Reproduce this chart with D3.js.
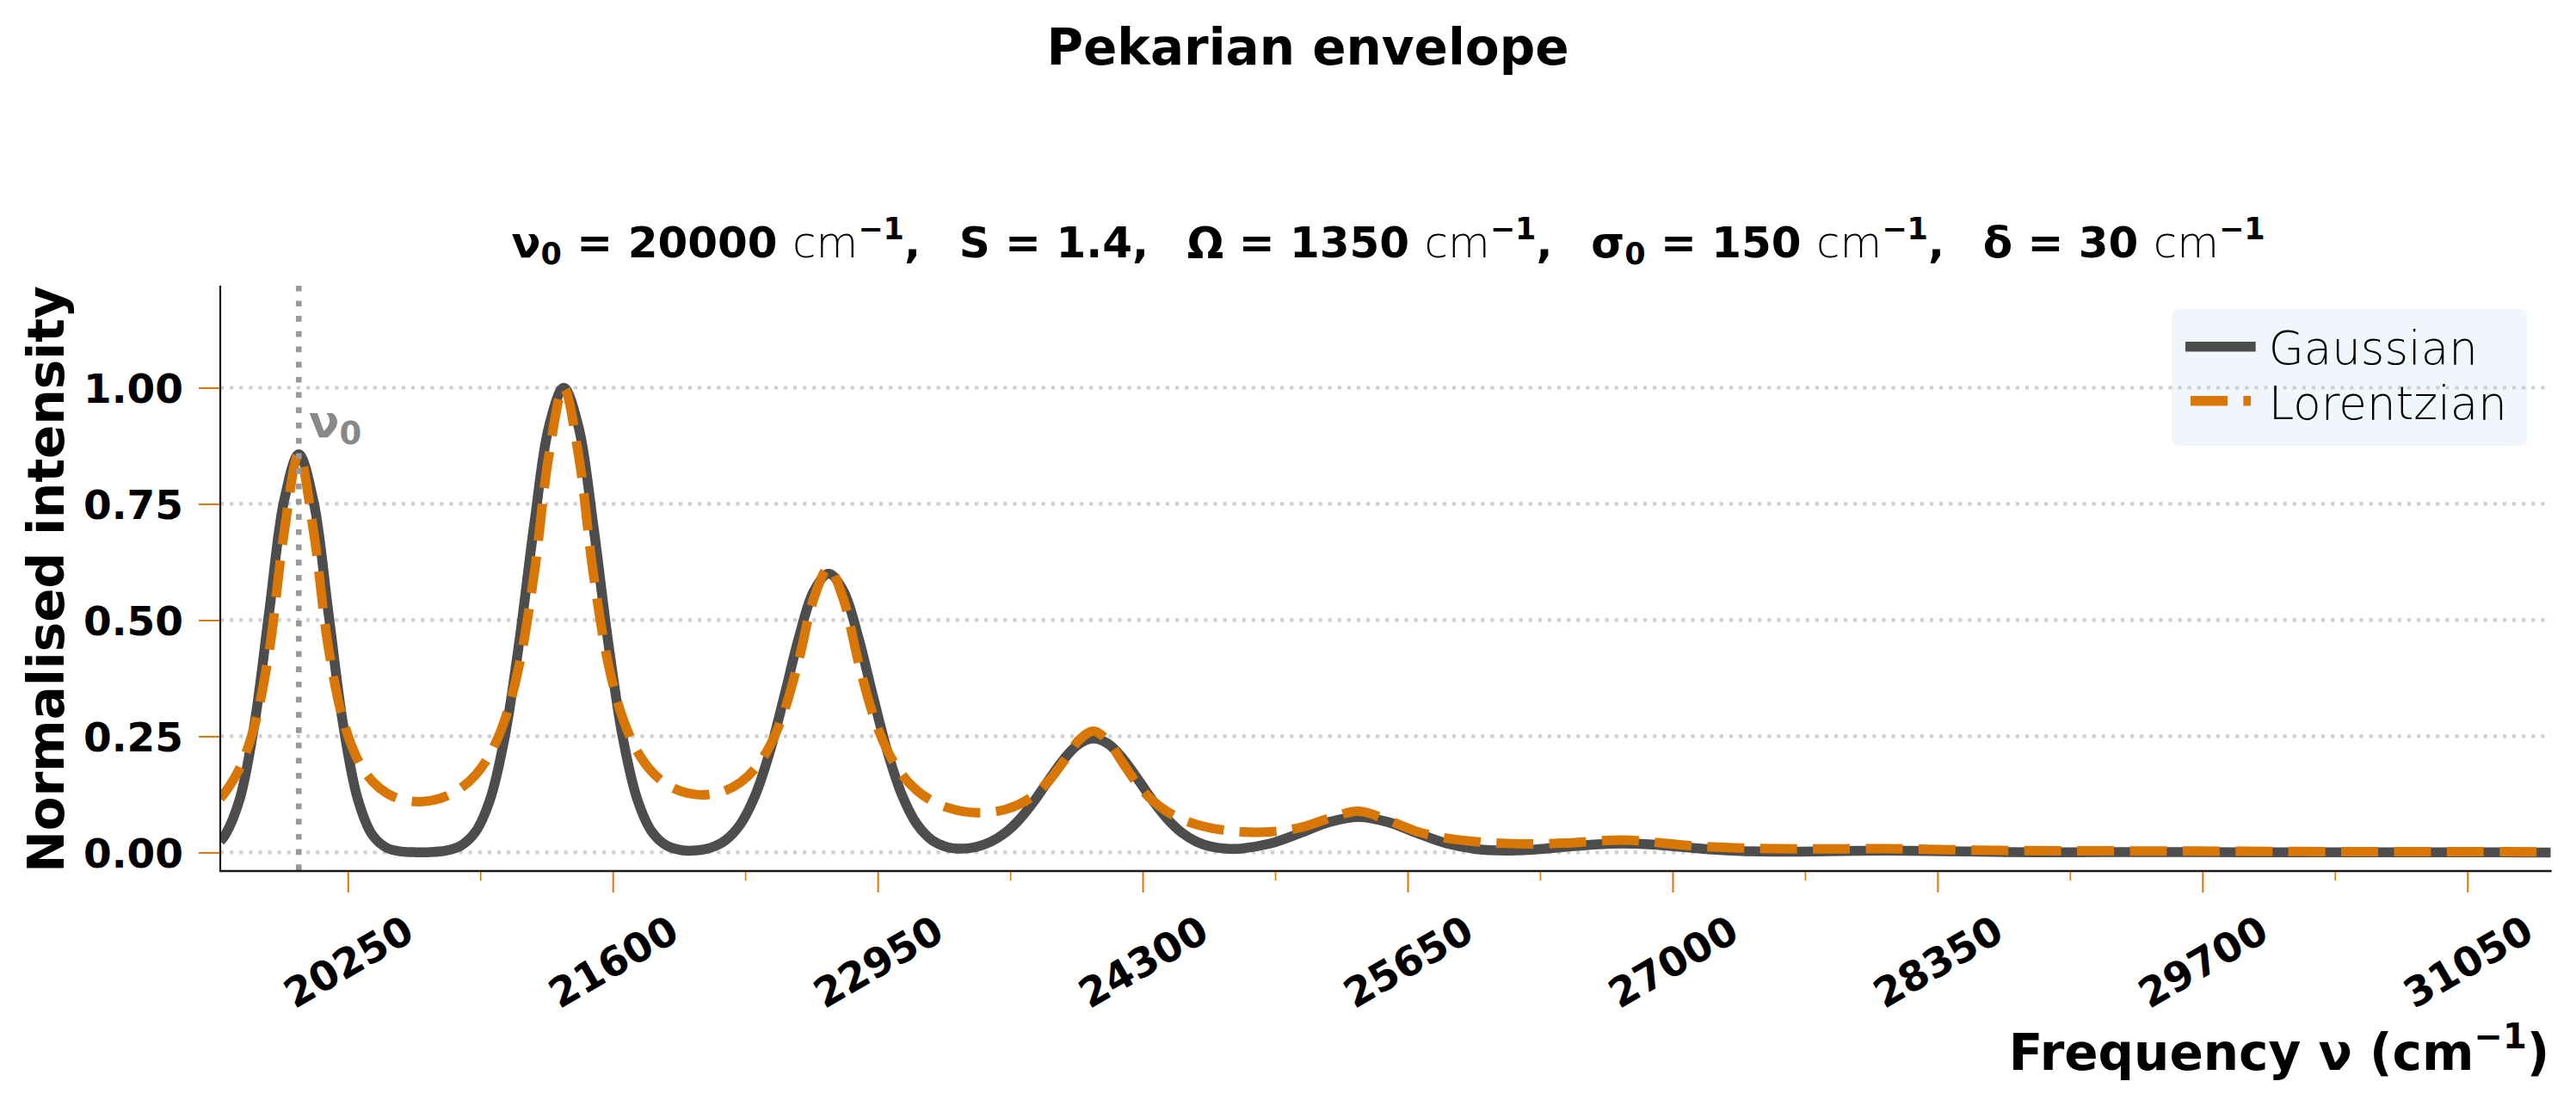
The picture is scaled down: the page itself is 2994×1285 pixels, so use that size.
<!DOCTYPE html>
<html>
<head>
<meta charset="utf-8">
<script src="https://cdn.jsdelivr.net/npm/d3@7"></script>
<style>
html, body { margin: 0; padding: 0; background: #ffffff; }
svg { display: block; font-family: "DejaVu Sans", sans-serif; }
</style>
</head>
<body>
<svg id="chart" width="2994" height="1285"></svg>
<script>
// ---------------- data ----------------
const freq = [
  19600, 19625, 19700, 19775, 19850, 19925,
  20000, 20075, 20150, 20225, 20300, 20375, 20450, 20525, 20600, 20675, 20750, 20825, 20900, 20975, 21050, 21125, 21200, 21275,
  21350, 21425, 21500, 21575, 21650, 21725, 21800, 21875, 21950, 22025, 22100, 22175, 22250, 22325, 22400, 22475, 22550, 22625,
  22700, 22775, 22850, 22925, 23000, 23075, 23150, 23225, 23300, 23375, 23450, 23525, 23600, 23675, 23750, 23825, 23900, 23975,
  24050, 24125, 24200, 24275, 24350, 24425, 24500, 24575, 24650, 24725,
  24800, 24950, 25100, 25250,
  25400, 25550, 25700, 25850, 26000, 26150, 26300, 26450, 26600,
  26750, 26900, 27050, 27200, 27350, 27500, 27650, 27800, 27950,
  28100, 28400, 28700, 29000, 29300, 29600, 29900, 30200, 30500, 30800, 31100, 31400, 31475
];
const gaussian = [
  0.0245, 0.0377, 0.1160, 0.2783, 0.5198, 0.7563,
  0.8570, 0.7563, 0.5198, 0.2783, 0.1160, 0.0377, 0.0095, 0.0019, 0.0005, 0.0009, 0.0039, 0.0142, 0.0439, 0.1142, 0.2494, 0.4578, 0.7066, 0.9169,
  1.0000, 0.9169, 0.7066, 0.4578, 0.2494, 0.1142, 0.0440, 0.0145, 0.0049, 0.0043, 0.0103, 0.0264, 0.0604, 0.1219, 0.2162, 0.3380, 0.4649, 0.5629,
  0.6000, 0.5629, 0.4649, 0.3380, 0.2162, 0.1220, 0.0606, 0.0270, 0.0120, 0.0081, 0.0118, 0.0227, 0.0423, 0.0723, 0.1122, 0.1579, 0.2015, 0.2333,
  0.2450, 0.2333, 0.2015, 0.1579, 0.1122, 0.0724, 0.0425, 0.0231, 0.0124, 0.0080,
  0.0083, 0.0192, 0.0411, 0.0653,
  0.0762, 0.0653, 0.0411, 0.0192, 0.0073, 0.0042, 0.0065, 0.0117, 0.0169,
  0.0192, 0.0169, 0.0117, 0.0063, 0.0029, 0.0016, 0.0018, 0.0027, 0.0037,
  0.0041, 0.0027, 0.0009, 0.0004, 0.0007, 0.0007, 0.0004, 0.0001, 0.0001, 0.0001, 0.0001, 0.0000, 0.0000
];
const lorentzian = [
  0.1166, 0.1292, 0.1822, 0.2733, 0.4353, 0.6873,
  0.8561, 0.6915, 0.4438, 0.2865, 0.2004, 0.1532, 0.1273, 0.1140, 0.1094, 0.1116, 0.1208, 0.1380, 0.1664, 0.2120, 0.2856, 0.4068, 0.6008, 0.8557,
  1.0000, 0.8567, 0.6028, 0.4099, 0.2899, 0.2175, 0.1733, 0.1466, 0.1314, 0.1246, 0.1253, 0.1334, 0.1506, 0.1803, 0.2288, 0.3056, 0.4180, 0.5474,
  0.6120, 0.5449, 0.4131, 0.2981, 0.2186, 0.1667, 0.1331, 0.1112, 0.0972, 0.0891, 0.0856, 0.0866, 0.0925, 0.1044, 0.1245, 0.1554, 0.1975, 0.2413,
  0.2609, 0.2384, 0.1916, 0.1462, 0.1118, 0.0878, 0.0713, 0.0600, 0.0523, 0.0473,
  0.0444, 0.0443, 0.0531, 0.0733,
  0.0885, 0.0694, 0.0447, 0.0305, 0.0231, 0.0195, 0.0184, 0.0200, 0.0241,
  0.0267, 0.0221, 0.0159, 0.0118, 0.0095, 0.0082, 0.0076, 0.0076, 0.0081,
  0.0083, 0.0059, 0.0042, 0.0035, 0.0033, 0.0030, 0.0024, 0.0020, 0.0018, 0.0017, 0.0015, 0.0014, 0.0013
];
const nu0 = 20000;
const xDomain = [19600, 31475];
const yDomain = [-0.04, 1.22];
const xMajorTicks = [20250, 21600, 22950, 24300, 25650, 27000, 28350, 29700, 31050];
const xMinorTicks = [20925, 22275, 23625, 24975, 26325, 27675, 29025, 30375];
const yTicks = [0, 0.25, 0.5, 0.75, 1.0];
const seriesNames = ["Gaussian", "Lorentzian"];
const titleText = "Pekarian envelope";
const xLabelMain = "Frequency \u03bd (cm";
const subtitleParts = [
  { t: "\u03bd", k: "b" }, { t: "0", k: "sub" }, { t: " = 20000 ", k: "b" }, { t: "cm", k: "l" }, { t: "\u22121", k: "sup" },
  { t: ",  \u2009S = 1.4,  \u2009\u03a9 = 1350 ", k: "b" }, { t: "cm", k: "l" }, { t: "\u22121", k: "sup" },
  { t: ",  \u2009\u03c3", k: "b" }, { t: "0", k: "sub" }, { t: " = 150 ", k: "b" }, { t: "cm", k: "l" }, { t: "\u22121", k: "sup" },
  { t: ",  \u2009\u03b4 = 30 ", k: "b" }, { t: "cm", k: "l" }, { t: "\u22121", k: "sup" }
];

// ---------------- style ----------------
const GRAY = "#4d4d4d";
const ORANGE = "#d97706";
const FONT = '"DejaVu Sans", sans-serif';
const LIGHT_FONT = '"DejaVu Sans ExtraLight", "DejaVu Sans", sans-serif';

const X0 = 256, X1 = 2964.7, Y0 = 331.7, Y1 = 1012;

const svg = d3.select("#chart");
svg.append("rect").attr("width", 2994).attr("height", 1285).attr("fill", "#ffffff");

const x = d3.scaleLinear().domain(xDomain).range([X0, X1]);
const y = d3.scaleLinear().domain(yDomain).range([Y1, Y0]);

svg.append("defs").append("clipPath").attr("id", "plotclip")
  .append("rect").attr("x", X0).attr("y", Y0).attr("width", X1 - X0).attr("height", Y1 - Y0);

// legend background (under the grid)
const LG = { x: 2524.3, y: 359.3, w: 413, h: 159 };
svg.append("rect").attr("x", LG.x).attr("y", LG.y).attr("width", LG.w).attr("height", LG.h)
  .attr("rx", 8).attr("ry", 8).attr("fill", "#f1f5fc");

// grid
svg.append("g").selectAll("line").data(yTicks).join("line")
  .attr("x1", X0).attr("x2", X1)
  .attr("y1", d => y(d)).attr("y2", d => y(d))
  .attr("stroke", "#cfcfcf").attr("stroke-width", 4.2).attr("stroke-dasharray", "4.2 6.9");

// curves
const rows = freq.map((f, i) => ({ f, g: gaussian[i], l: lorentzian[i] }));
const lineG = d3.line().x(d => x(d.f)).y(d => y(d.g)).curve(d3.curveCatmullRom.alpha(0.5));
const lineL = d3.line().x(d => x(d.f)).y(d => y(d.l)).curve(d3.curveCatmullRom.alpha(0.5));
const plot = svg.append("g").attr("clip-path", "url(#plotclip)");
plot.append("path").datum(rows).attr("d", lineG)
  .attr("fill", "none").attr("stroke", GRAY).attr("stroke-width", 11.5).attr("stroke-linejoin", "round");
plot.append("path").datum(rows).attr("d", lineL)
  .attr("fill", "none").attr("stroke", ORANGE).attr("stroke-width", 11).attr("stroke-dasharray", "43 18.4");

// nu0 vertical marker
plot.append("line").attr("x1", x(nu0)).attr("x2", x(nu0)).attr("y1", Y0).attr("y2", Y1)
  .attr("stroke", "#999999").attr("stroke-width", 6.7).attr("stroke-dasharray", "6.7 11");

// spines
svg.append("line").attr("x1", X0).attr("x2", X0).attr("y1", Y0).attr("y2", Y1 + 1)
  .attr("stroke", "#1a1a1a").attr("stroke-width", 2.2);
svg.append("line").attr("x1", X0 - 1).attr("x2", X1 + 1).attr("y1", Y1).attr("y2", Y1)
  .attr("stroke", "#1a1a1a").attr("stroke-width", 2.4);

// x axis (major)
const gx = svg.append("g").attr("transform", `translate(0,${Y1 + 1})`)
  .call(d3.axisBottom(x).tickValues(xMajorTicks).tickSize(24).tickSizeOuter(0).tickFormat(d3.format("d")));
gx.select(".domain").remove();
gx.attr("font-size", 47).attr("font-family", FONT).attr("font-weight", "bold");
gx.selectAll(".tick line").attr("stroke", ORANGE).attr("stroke-width", 2);
gx.selectAll(".tick text").attr("y", null).attr("dy", "0.36em")
  .attr("transform", "translate(0,104) rotate(-30)").attr("text-anchor", "middle").attr("fill", "#000");

// x axis (minor)
const gxm = svg.append("g").attr("transform", `translate(0,${Y1 + 1})`)
  .call(d3.axisBottom(x).tickValues(xMinorTicks).tickSize(10).tickSizeOuter(0).tickFormat(""));
gxm.select(".domain").remove();
gxm.selectAll(".tick line").attr("stroke", ORANGE).attr("stroke-width", 1.6);

// y axis
const gy = svg.append("g").attr("transform", `translate(${X0 - 1},0)`)
  .call(d3.axisLeft(y).tickValues(yTicks).tickSize(24).tickPadding(18).tickSizeOuter(0).tickFormat(d3.format(".2f")));
gy.select(".domain").remove();
gy.attr("font-size", 47).attr("font-family", FONT).attr("font-weight", "bold");
gy.selectAll(".tick line").attr("stroke", ORANGE).attr("stroke-width", 2);
gy.selectAll(".tick text").attr("dy", "0.36em").attr("fill", "#000");

// nu0 label
const nuLab = svg.append("text").attr("x", 359).attr("y", 508)
  .attr("font-family", FONT).attr("font-weight", "bold").attr("font-size", 52).attr("fill", "#888888");
nuLab.append("tspan").text("\u03bd");
nuLab.append("tspan").attr("dy", 8).attr("font-size", 37).text("0");

// title
svg.append("text").attr("x", 1520).attr("y", 75).attr("text-anchor", "middle")
  .attr("font-family", FONT).attr("font-weight", "bold").attr("font-size", 58).attr("fill", "#000")
  .text(titleText);

// subtitle
const st = svg.append("text").attr("x", 1613.6).attr("y", 299).attr("text-anchor", "middle")
  .attr("font-family", FONT).attr("font-weight", "bold").attr("font-size", 50).attr("fill", "#000")
  .style("white-space", "pre");
let shift = 0;
subtitleParts.forEach(p => {
  const ts = st.append("tspan").text(p.t);
  let target = 0;
  if (p.k === "sub") { target = 8; ts.attr("font-size", 35); }
  if (p.k === "sup") { target = -21; ts.attr("font-size", 35); }
  if (p.k === "l") { ts.attr("font-weight", 200).attr("font-family", LIGHT_FONT); }
  if (target !== shift) { ts.attr("dy", target - shift); shift = target; }
});

// y label
svg.append("text").attr("transform", "translate(74,673) rotate(-90)").attr("text-anchor", "middle")
  .attr("font-family", FONT).attr("font-weight", "bold").attr("font-size", 58).attr("fill", "#000")
  .text("Normalised intensity");

// x label
const xl = svg.append("text").attr("x", 2963.3).attr("y", 1243).attr("text-anchor", "end")
  .attr("font-family", FONT).attr("font-weight", "bold").attr("font-size", 58).attr("fill", "#000")
  .style("white-space", "pre");
xl.append("tspan").text(xLabelMain);
xl.append("tspan").attr("dy", -25).attr("font-size", 40).text("\u22121");
xl.append("tspan").attr("dy", 25).text(")");

// legend entries
const lg = svg.append("g");
lg.append("line").attr("x1", 2540).attr("x2", 2621.7).attr("y1", 402.7).attr("y2", 402.7)
  .attr("stroke", GRAY).attr("stroke-width", 11.5);
lg.append("line").attr("x1", 2546).attr("x2", 2616).attr("y1", 465.7).attr("y2", 465.7)
  .attr("stroke", ORANGE).attr("stroke-width", 11.5).attr("stroke-dasharray", "43 18.4");
lg.selectAll("text").data(seriesNames).join("text")
  .attr("x", 2636.7).attr("y", (d, i) => i === 0 ? 423.3 : 486.7)
  .attr("font-family", LIGHT_FONT).attr("font-weight", 200).attr("font-size", 53).attr("fill", "#000")
  .text(d => d);
</script>
</body>
</html>
